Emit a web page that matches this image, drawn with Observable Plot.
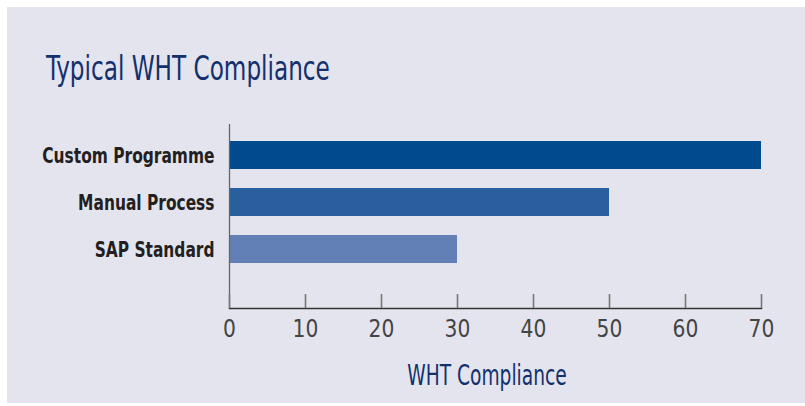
<!DOCTYPE html>
<html><head><meta charset="utf-8">
<script src="https://cdn.jsdelivr.net/npm/d3@7"></script>
<script src="https://cdn.jsdelivr.net/npm/@observablehq/plot@0.6"></script>
<style>
html,body{margin:0;padding:0;background:#fff;}
#wrap{position:relative;width:805px;height:406px;overflow:hidden;}
#panel{position:absolute;left:7px;top:7px;width:798px;height:396px;background:#e4e4ee;}
.nar{font-family:"DejaVu Sans Condensed","Liberation Sans Narrow","Roboto",sans-serif;}
#title{position:absolute;left:46px;top:52px;font-size:33px;line-height:33px;color:#13306d;white-space:nowrap;transform-origin:0 0;transform:scaleX(0.78);}
#xlabel{position:absolute;left:0;width:974px;text-align:center;top:362px;font-size:28px;line-height:28px;color:#13306d;white-space:nowrap;transform-origin:487px 0;transform:scaleX(0.74);}
#chart{position:absolute;left:0;top:0;}
</style></head>
<body>
<div id="wrap">
<div id="panel"></div>
<div id="title" class="nar">Typical WHT Compliance</div>
<div id="chart"></div>
<div id="xlabel" class="nar">WHT Compliance</div>
</div>
<script>
const categories = ["Custom Programme", "Manual Process", "SAP Standard"];
const values = [70, 50, 30];
const tickValues = [0, 10, 20, 30, 40, 50, 60, 70];
const barColors = ["#004a8d", "#2a5f9e", "#6380b6"];

const data = categories.map((c, i) => ({category: c, value: values[i]}));
const font = '"DejaVu Sans Condensed","Liberation Sans Narrow","Roboto",sans-serif';

const chart = Plot.plot({
  width: 805,
  height: 406,
  marginLeft: 229,
  marginRight: 44,
  marginTop: 124,
  marginBottom: 98,
  style: {background: "transparent", fontFamily: font, overflow: "visible"},
  x: {domain: [0, 70], ticks: tickValues},
  y: {domain: categories, range: [140, 264], paddingInner: 0.41, paddingOuter: 0},
  color: {domain: categories, range: barColors},
  marks: [
    Plot.barX(data, {x: "value", y: "category", fill: "category"}),
    Plot.ruleX([0], {stroke: "#666", strokeWidth: 1.3}),
    Plot.frame({anchor: "bottom", stroke: "#333", strokeWidth: 1.4}),
    Plot.axisX({ticks: tickValues, tickSize: -14, tickFormat: () => "", stroke: "#777", strokeWidth: 1.6, label: null}),
    Plot.axisX({ticks: tickValues, tickSize: 0, tickPadding: 11, fontSize: 25, fill: "#444", label: null}),
    Plot.axisY({tickSize: 0, tickPadding: 15, fontSize: 22, fontWeight: "bold", fill: "#231f20", label: null})
  ]
});
document.getElementById("chart").appendChild(chart);

function squeeze(selector, factor) {
  chart.querySelectorAll(selector).forEach(t => {
    const L = t.getComputedTextLength();
    if (L > 0) {
      t.setAttribute("textLength", L * factor);
      t.setAttribute("lengthAdjust", "spacingAndGlyphs");
    }
  });
}
squeeze('g[aria-label="y-axis tick label"] text', 0.78);
squeeze('g[aria-label="x-axis tick label"] text', 0.9);
</script>
</body></html>
